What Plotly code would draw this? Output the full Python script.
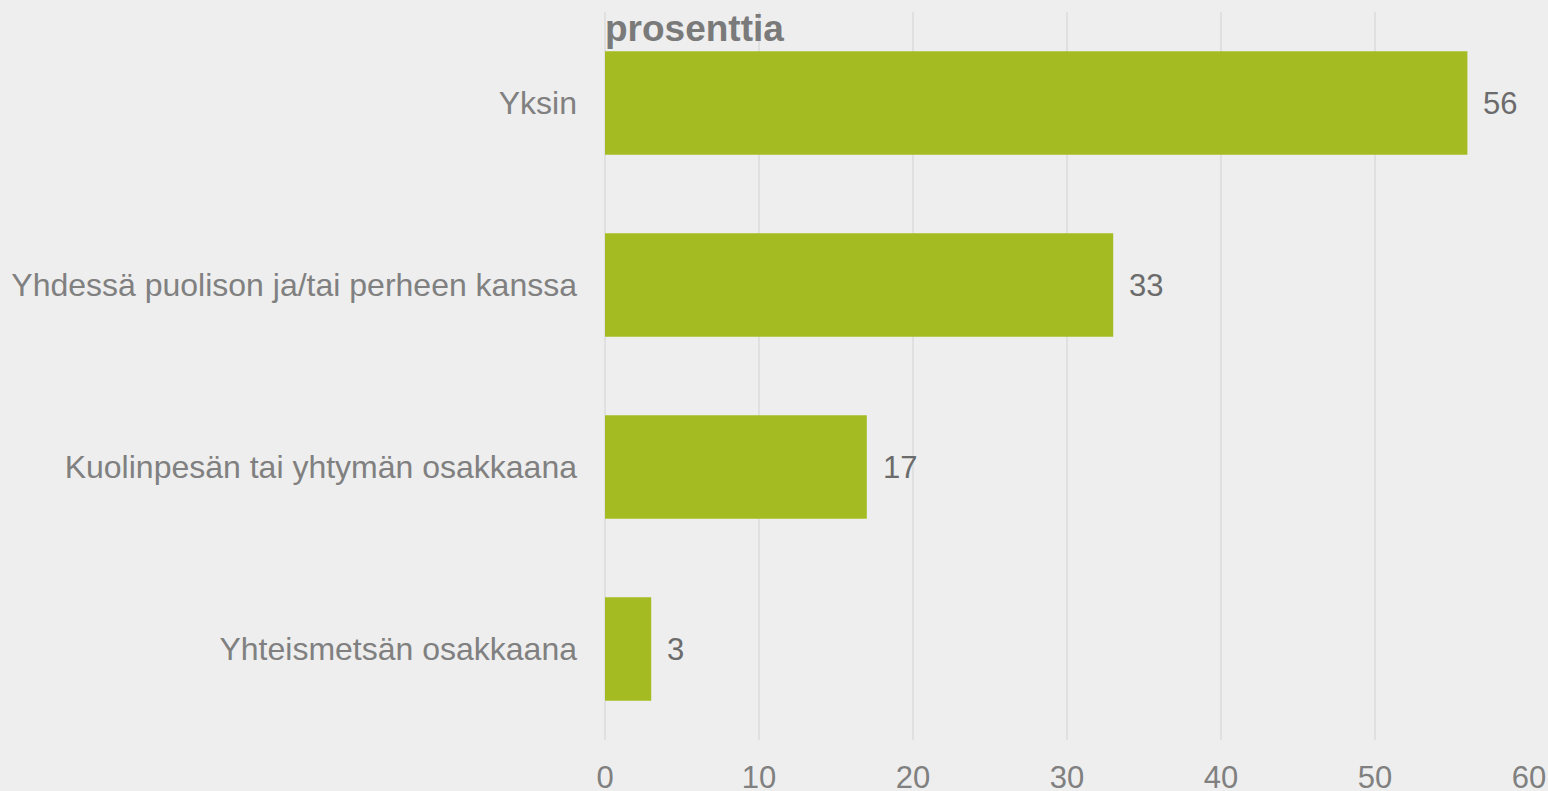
import plotly.graph_objects as go

categories = ["Yksin", "Yhdessä puolison ja/tai perheen kanssa",
              "Kuolinpesän tai yhtymän osakkaana", "Yhteismetsän osakkaana"]
values = [56, 33, 17, 3]
x_ticks = [0, 10, 20, 30, 40, 50, 60]
axis_title = "prosenttia"

bar_color = "#A4BB22"
bg = "#EEEEEE"
font_family = "Liberation Sans, Arial, sans-serif"

fig = go.Figure()
fig.add_trace(go.Bar(
    x=values, y=categories, orientation="h",
    marker=dict(color=bar_color, line=dict(width=0)),
    width=0.57, hoverinfo="x+y",
))

for c, v in zip(categories, values):
    fig.add_annotation(x=v, y=c, xref="x", yref="y", text=str(v),
                       showarrow=False, xanchor="left", xshift=14,
                       font=dict(size=31, color="#6B6B6B", family=font_family))

fig.add_annotation(x=0, y=1, xref="paper", yref="paper", text="<b>" + axis_title + "</b>",
                   showarrow=False, xanchor="left", yanchor="top", xshift=-2, yshift=6,
                   font=dict(size=37, color="#7A7A7A", family=font_family))

fig.update_layout(
    width=1548, height=791,
    paper_bgcolor=bg, plot_bgcolor=bg,
    margin=dict(l=605, r=19, t=12, b=51, autoexpand=False),
    showlegend=False,
    font=dict(family=font_family, color="#808080"),
    xaxis=dict(range=[0, 60], tickvals=x_ticks, showgrid=True,
               gridcolor="#E0E0E0", gridwidth=1.5, zeroline=True,
               zerolinecolor="#E0E0E0", zerolinewidth=1.5,
               tickfont=dict(size=31, color="#808080"),
               ticklabelstandoff=16, showline=False, automargin=False),
    yaxis=dict(categoryorder="array", categoryarray=categories,
               autorange="reversed", range=[3.5, -0.5],
               showgrid=False, zeroline=False, showline=False,
               tickfont=dict(size=32, color="#808080"),
               ticklabelstandoff=27, automargin=False),
)

fig.write_html("out.html", config={"displayModeBar": False},
               post_script="document.body.style.margin='0';document.body.style.background='#EEEEEE';")
